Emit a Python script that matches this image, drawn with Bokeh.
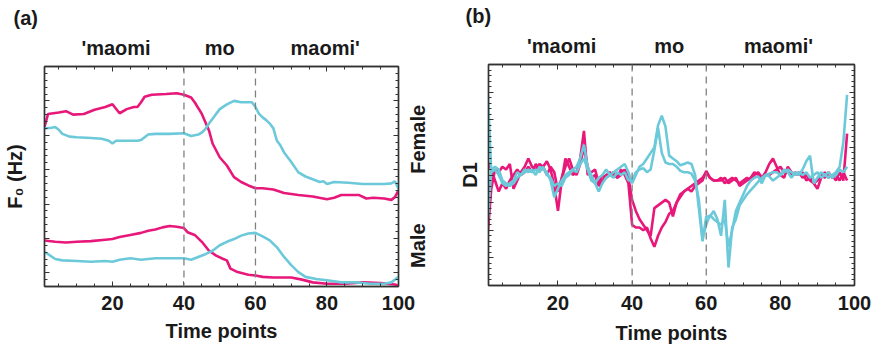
from bokeh.plotting import figure
from bokeh.models import Range1d, FixedTicker, LinearAxis, Span, Title, CustomJSTickFormatter
from bokeh.layouts import row, column
from bokeh.embed import file_html
from bokeh.resources import INLINE
import math

PINK = "#E8177A"
CYAN = "#6CC9DA"
TEXT = "#1a1a1a"
FRAME = "#333333"
FONT = "Liberation Sans"

# ---------------- panel (a): F0 contours ----------------
fem_pink_t = [1, 2, 5, 7, 9, 12, 15, 18, 20, 22, 24, 26, 27, 28, 29, 31, 35, 38, 40, 42,
              43, 45, 47, 48, 50, 52, 54, 56, 58, 60, 62, 65, 68, 72, 76, 80, 82, 84, 87, 89,
              91, 93, 96, 98, 99, 100]
fem_pink_f0 = [312, 331, 333, 335, 330, 331, 337, 341, 345, 332, 338, 341, 341, 348, 356, 359, 360, 361, 359, 355,
               348, 331, 307, 288, 268, 256, 239, 232, 227, 223, 223, 221, 216, 213, 211, 207, 209, 213, 213, 213,
               208, 209, 208, 206, 210, 220]

fem_cyan_t = [1, 3, 4, 5, 6, 8, 10, 14, 17, 19, 20, 21, 24, 27, 28, 30, 32, 36, 40, 42,
              44, 45, 46, 47, 48, 50, 52, 54, 56, 59, 60, 61, 62, 63, 64, 65, 66, 67, 68, 70,
              72, 74, 76, 78, 79, 80, 82, 86, 90, 94, 96, 98, 99, 100]
fem_cyan_f0 = [310, 311, 312, 308, 302, 298, 297, 296, 295, 292, 288, 292, 292, 292, 293, 301, 302, 302, 303, 299,
               301, 304, 309, 317, 324, 338, 345, 350, 348, 348, 341, 331, 326, 322, 317, 310, 292, 285, 275, 261,
               246, 240, 236, 232, 233, 229, 232, 231, 229, 229, 229, 230, 233, 222]

male_pink_t = [1, 4, 7, 10, 14, 18, 20, 22, 25, 28, 30, 32, 34, 36, 38, 40, 41, 43, 45, 47,
               49, 51, 52, 53, 55, 58, 60, 62, 65, 70, 73, 76, 80, 85, 90, 95, 99, 100]
male_pink_f0 = [147, 145, 144, 145, 146, 148, 149, 152, 155, 158, 161, 163, 166, 168, 167, 165, 159, 155, 145, 132,
                125, 120, 118, 106, 101, 97, 96, 94, 93, 93, 90, 86, 84, 84, 86, 85, 83, 81]

male_cyan_t = [1, 2, 4, 6, 10, 14, 18, 20, 22, 25, 28, 32, 36, 40, 42, 44, 46, 48, 50, 52,
               54, 56, 58, 60, 62, 64, 66, 68, 70, 72, 74, 77, 80, 84, 88, 92, 96, 98, 100]
male_cyan_f0 = [130, 127, 120, 118, 117, 116, 117, 116, 119, 121, 119, 121, 121, 121, 119, 123, 127, 132, 140, 145,
                149, 154, 157, 158, 153, 147, 137, 123, 111, 101, 94, 91, 89, 86, 86, 84, 84, 86, 94]

# ---------------- panel (b): first derivative D1 ----------------
time_b = list(range(1, 99))
d1_pink_a = [-2.2, -0.5, 0.2, 0.1, 0.3, 0.2, 0.4, -0.5, -0.2, 0.1,
             0.3, 0.6, 0.3, 0.2, 0.4, 0.3, 0.5, 0.2, -0.4, -1.3,
             -0.2, 0.6, 0.3, 0.0, 0.1, 0.6, 1.6, 0.0, 0.1, 0.2,
             -0.3, 0.0, -0.1, 0.0, 0.1, -0.1, 0.2, 0.0, -0.3, -1.8,
             -1.9, -1.9, -2.0, -1.9, -2.3, -2.6, -2.2, -1.9, -1.7, -1.4,
             -1.3, -1.0, -0.8, -0.6, -0.5, -0.6, -0.4, -0.3, -0.2, 0.15,
             -0.1, -0.2, -0.2, -0.2, -0.1, -0.3, -0.2, -0.1, -0.4, -0.3,
             -0.2, -0.1, 0.1, 0.0, -0.1, 0.1, 0.4, 0.6, 0.3, 0.0,
             -0.1, 0.3, 0.1, 0.0, 0.1, -0.1, 0.0, -0.2, -0.3, -0.5,
             -0.1, 0.1, -0.1, 0.0, -0.2, 0.1, -0.2, 1.5]
d1_pink_b = [0.5, 0.2, -0.2, -0.6, -0.3, -0.5, -0.2, 0.0, 0.2, 0.0,
             0.1, 0.3, 0.1, 0.4, 0.2, 0.3, 0.0, 0.3, 0.1, -0.6,
             -0.1, 0.3, 0.6, 0.2, 0.0, 0.4, 1.0, 0.3, -0.1, 0.0,
             -0.4, -0.2, 0.0, 0.1, 0.0, -0.1, 0.0, 0.2, -0.1, -0.9,
             -1.3, -1.6, -1.8, -2.0, -2.2, -1.2, -1.1, -1.0, -0.9, -1.0,
             -1.5, -1.0, -0.7, -0.6, -0.5, -0.4, -0.3, -0.2, -0.1, 0.1,
             -0.1, -0.2, -0.2, -0.1, -0.3, -0.2, -0.1, -0.2, -0.3, -0.2,
             -0.1, -0.2, 0.0, 0.1, -0.1, 0.0, 0.0, 0.1, 0.2, 0.3,
             0.1, 0.2, 0.0, 0.1, 0.0, 0.1, -0.2, -0.1, -0.3, -0.2,
             0.0, -0.1, 0.1, -0.1, 0.0, -0.2, 0.1, -0.2]
d1_cyan_a = [3.2, 0.1, 0.2, 0.0, -0.3, -0.4, -0.3, -0.2, 0.1, 0.0,
             0.2, 0.1, 0.2, 0.0, 0.3, 0.2, 0.1, -0.2, -0.8, -0.5,
             -0.2, 0.0, 0.1, 0.2, 0.3, 0.6, 1.1, 0.3, 0.0, -0.3,
             -0.6, -0.3, -0.1, 0.0, 0.1, 0.2, 0.3, 0.4, 0.1, -0.3,
             0.0, 0.3, 0.4, 0.6, 0.8, 1.0, 1.8, 2.15, 1.75, 0.7,
             0.6, 0.5, 0.35, 0.4, 0.45, 0.4, 0.0, -1.2, -2.4, -1.5,
             -1.5, -1.3, -1.6, -2.2, -0.9, -3.35, -1.9, -1.6, -1.1, -0.9,
             -0.7, -0.55, -0.4, -0.25, -0.1, 0.0, 0.05, 0.1, 0.1, 0.0,
             0.2, 0.1, -0.1, 0.1, 0.0, 0.2, 0.5, 0.7, -0.3, -0.1,
             0.1, 0.0, -0.1, 0.0, 0.1, 0.3, 1.2, 2.9]
d1_cyan_b = [-1.8, 0.2, 0.3, 0.2, -0.2, -0.3, -0.4, -0.3, -0.1, 0.0,
             0.1, 0.2, 0.1, 0.2, 0.1, 0.3, 0.0, -0.1, -0.4, -0.3,
             -0.4, -0.1, 0.0, 0.2, 0.1, 0.4, 0.6, 0.2, -0.2, -0.3,
             -0.1, 0.0, 0.2, 0.0, -0.1, 0.1, 0.0, 0.1, -0.2, -0.2,
             0.1, 0.2, 0.25, 0.1, 0.2, 0.9, 1.7, 0.8, 0.45, 0.4,
             0.4, 0.3, 0.15, 0.1, 0.1, 0.05, -0.2, -0.9, -2.3, -1.8,
             -1.45, -1.6, -1.7, -1.8, -1.6, -2.6, -2.0, -1.3, -1.0, -0.7,
             -0.4, -0.2, -0.1, -0.05, -0.3, 0.0, -0.05, -0.2, -0.1, 0.0,
             0.1, 0.2, 0.1, 0.0, 0.1, 0.0, 0.1, -0.1, 0.0, 0.1,
             -0.1, 0.0, 0.1, -0.1, 0.0, 0.2, 0.1, 0.3]

# ---------------- shared labels / ticks ----------------
syllables = ["'maomi", "mo", "maomi'"]
syllable_centers = [21, 50, 79.5]
speakers = ["Female", "Male"]
speaker_label_starts = [244, 107]   # lower end of each rotated label (F0 axis units)
boundaries = [40, 60]
x_major = [20, 40, 60, 80, 100]
x_minor = [5, 10, 15, 25, 30, 35, 45, 50, 55, 65, 70, 75, 85, 90, 95]
a_y_major = [100, 150, 200, 250, 300, 350, 400]
a_y_minor = [90, 110, 120, 130, 140, 160, 170, 180, 190, 210, 220, 230, 240, 260, 270, 280, 290,
             310, 320, 330, 340, 360, 370, 380, 390]
b_y_major = [-4, -3, -2, -1, 0, 1, 2, 3, 4]
b_y_minor = [-3.8, -3.6, -3.4, -3.2, -2.8, -2.6, -2.4, -2.2, -1.8, -1.6, -1.4, -1.2,
             -0.8, -0.6, -0.4, -0.2, 0.2, 0.4, 0.6, 0.8, 1.2, 1.4, 1.6, 1.8,
             2.2, 2.4, 2.6, 2.8, 3.2, 3.4, 3.6, 3.8]


def blank():
    return CustomJSTickFormatter(code="return ''")


def named(vals, labels):
    return CustomJSTickFormatter(args=dict(vals=vals, labels=labels),
                                 code="const i = vals.indexOf(tick); return i >= 0 ? labels[i] : '';")


def text_axis(vals, labels, standoff, orientation="horizontal"):
    return LinearAxis(ticker=FixedTicker(ticks=vals), formatter=named(vals, labels),
                      axis_line_color=None, major_tick_line_color=None, minor_tick_line_color=None,
                      major_tick_in=0, major_tick_out=0, minor_tick_in=0, minor_tick_out=0,
                      major_label_standoff=standoff, major_label_orientation=orientation,
                      major_label_text_font=FONT, major_label_text_font_style="bold",
                      major_label_text_font_size="20px", major_label_text_color=TEXT)


def tick_axis(tk):
    return LinearAxis(ticker=tk, formatter=blank(), axis_line_color=FRAME, axis_line_width=1.4,
                      major_tick_line_color=FRAME, minor_tick_line_color=FRAME,
                      major_tick_in=5, major_tick_out=0, minor_tick_in=3, minor_tick_out=0,
                      major_label_standoff=0, major_label_text_font_size="1px")


def style_axes(p, xt, yt, ylabel, ylabel_standoff, xtick_standoff, xlabel_standoff):
    for ax in p.axis:
        ax.axis_line_color = FRAME
        ax.axis_line_width = 1.4
        ax.major_tick_line_color = FRAME
        ax.minor_tick_line_color = FRAME
        ax.major_tick_in = 5
        ax.major_tick_out = 0
        ax.minor_tick_in = 3
        ax.minor_tick_out = 0
        ax.major_label_text_font = FONT
        ax.major_label_text_font_style = "bold"
        ax.major_label_text_font_size = "20px"
        ax.major_label_text_color = TEXT
        ax.axis_label_text_font = FONT
        ax.axis_label_text_font_style = "bold"
        ax.axis_label_text_font_size = "20px"
        ax.axis_label_text_color = TEXT
    p.xaxis.ticker = xt
    p.yaxis.ticker = yt
    p.yaxis.formatter = blank()
    p.yaxis.major_label_standoff = 0
    p.yaxis.major_label_text_font_size = "1px"
    p.yaxis.axis_label = ylabel
    p.yaxis.axis_label_standoff = ylabel_standoff
    p.xaxis.axis_label = "Time points"
    p.xaxis.major_label_standoff = xtick_standoff
    p.xaxis.axis_label_standoff = xlabel_standoff
    p.add_layout(tick_axis(xt), "above")
    p.add_layout(tick_axis(yt), "right")
    p.grid.visible = False
    p.outline_line_color = FRAME
    p.outline_line_width = 1.4
    for b in boundaries:
        p.add_layout(Span(location=b, dimension="height", line_color="#808080",
                          line_dash="7 5", line_width=1.3))


def panel_title(text, offset, standoff):
    return Title(text=text, align="left", offset=offset, standoff=standoff, vertical_align="middle",
                 text_font=FONT, text_font_style="bold", text_font_size="20px", text_color=TEXT)


# ---------------- figure (a) ----------------
pa = figure(width=442, height=347, x_range=Range1d(1, 100), y_range=Range1d(80, 400),
            output_backend="svg", toolbar_location=None,
            min_border_left=43, min_border_right=43, min_border_top=66, min_border_bottom=61)
pa.line(fem_pink_t, fem_pink_f0, line_color=PINK, line_width=2.6)
pa.line(fem_cyan_t, fem_cyan_f0, line_color=CYAN, line_width=2.6)
pa.line(male_pink_t, male_pink_f0, line_color=PINK, line_width=2.6)
pa.line(male_cyan_t, male_cyan_f0, line_color=CYAN, line_width=2.6)
style_axes(pa, FixedTicker(ticks=x_major, minor_ticks=x_minor),
           FixedTicker(ticks=a_y_major, minor_ticks=a_y_minor), "F\u2080 (Hz)", 19, 9, 7)
pa.add_layout(text_axis(syllable_centers, syllables, 8), "above")
pa.add_layout(text_axis(speaker_label_starts, speakers, 19, math.pi / 2), "right")
pa.add_layout(panel_title("(a)", -31, 8), "above")

# ---------------- figure (b) ----------------
pb = figure(width=430, height=347, x_range=Range1d(1.25, 100), y_range=Range1d(-4, 4),
            output_backend="svg", toolbar_location=None,
            min_border_left=46, min_border_right=18, min_border_top=60, min_border_bottom=62)
pb.line(time_b, d1_pink_a, line_color=PINK, line_width=2.6)
pb.line(time_b, d1_pink_b, line_color=PINK, line_width=2.6)
pb.line(time_b, d1_cyan_a, line_color=CYAN, line_width=2.6)
pb.line(time_b, d1_cyan_b, line_color=CYAN, line_width=2.6)
style_axes(pb, FixedTicker(ticks=x_major, minor_ticks=x_minor),
           FixedTicker(ticks=b_y_major, minor_ticks=b_y_minor), "D1", 8, 10, 9)
pb.add_layout(text_axis(syllable_centers, syllables, 8), "above")
pb.add_layout(panel_title("(b)", -23, 7), "above")

layout = row(column(pa), column(pb))
open("out.html", "w").write(file_html(layout, INLINE))
